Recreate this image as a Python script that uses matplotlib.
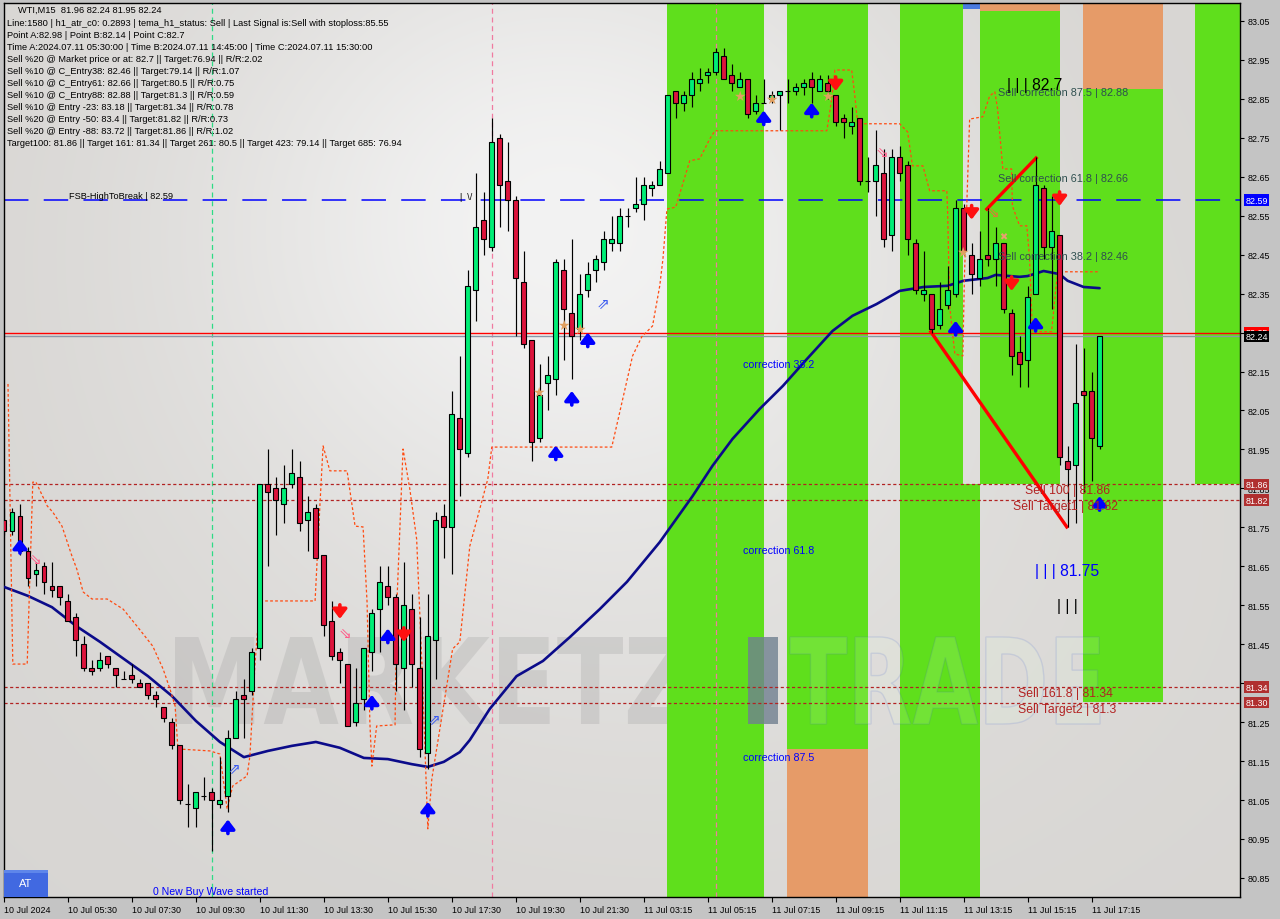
import numpy as np
import matplotlib
matplotlib.use("Agg")
import matplotlib.pyplot as plt
from matplotlib.patches import Rectangle, PathPatch
from matplotlib.textpath import TextPath
from matplotlib.font_manager import FontProperties
from matplotlib.transforms import Affine2D, blended_transform_factory

plt.rcParams['font.family'] = ['Liberation Sans', 'DejaVu Sans']

# ---------------- data ----------------
symbol_line = "WTI,M15  81.96 82.24 81.95 82.24"
info_lines = [
    "Line:1580 | h1_atr_c0: 0.2893 | tema_h1_status: Sell | Last Signal is:Sell with stoploss:85.55",
    "Point A:82.98 | Point B:82.14 | Point C:82.7",
    "Time A:2024.07.11 05:30:00 | Time B:2024.07.11 14:45:00 | Time C:2024.07.11 15:30:00",
    "Sell %20 @ Market price or at: 82.7 || Target:76.94 || R/R:2.02",
    "Sell %10 @ C_Entry38: 82.46 || Target:79.14 || R/R:1.07",
    "Sell %10 @ C_Entry61: 82.66 || Target:80.5 || R/R:0.75",
    "Sell %10 @ C_Entry88: 82.88 || Target:81.3 || R/R:0.59",
    "Sell %10 @ Entry -23: 83.18 || Target:81.34 || R/R:0.78",
    "Sell %20 @ Entry -50: 83.4 || Target:81.82 || R/R:0.73",
    "Sell %20 @ Entry -88: 83.72 || Target:81.86 || R/R:1.02",
    "Target100: 81.86 || Target 161: 81.34 || Target 261: 80.5 || Target 423: 79.14 || Target 685: 76.94",
]

opens = [81.77, 81.74, 81.78, 81.69, 81.63, 81.65, 81.60, 81.60, 81.56, 81.52,
         81.45, 81.39, 81.39, 81.42, 81.39, 81.36, 81.37, 81.35, 81.35, 81.32,
         81.29, 81.25, 81.19, 81.04, 81.03, 81.06, 81.07, 81.04, 81.06, 81.21,
         81.32, 81.33, 81.44, 81.86, 81.85, 81.81, 81.86, 81.88, 81.77, 81.80,
         81.68, 81.51, 81.43, 81.40, 81.25, 81.31, 81.43, 81.54, 81.60, 81.57,
         81.39, 81.54, 81.39, 81.17, 81.46, 81.78, 81.75, 82.03, 81.94, 82.36,
         82.54, 82.47, 82.75, 82.64, 82.59, 82.38, 82.23, 81.98, 82.12, 82.13,
         82.41, 82.30, 82.26, 82.36, 82.41, 82.43, 82.48, 82.48, 82.55, 82.57,
         82.58, 82.62, 82.63, 82.66, 82.87, 82.84, 82.86, 82.89, 82.91, 82.92,
         82.96, 82.91, 82.88, 82.90, 82.82, 82.84, 82.85, 82.86, 82.87, 82.87,
         82.88, 82.90, 82.87, 82.89, 82.86, 82.80, 82.78, 82.80, 82.64, 82.64,
         82.66, 82.50, 82.70, 82.68, 82.48, 82.35, 82.35, 82.27, 82.32, 82.35,
         82.57, 82.45, 82.39, 82.45, 82.44, 82.48, 82.30, 82.20, 82.18, 82.35,
         82.62, 82.47, 82.50, 81.92, 81.91, 82.10, 82.10, 81.96]
highs = [81.80, 81.80, 81.81, 81.70, 81.66, 81.66, 81.66, 81.60, 81.58, 81.53,
         81.47, 81.41, 81.43, 81.42, 81.39, 81.38, 81.40, 81.36, 81.35, 81.33,
         81.29, 81.26, 81.19, 81.09, 81.07, 81.11, 81.08, 81.16, 81.23, 81.33,
         81.36, 81.44, 81.86, 81.95, 81.88, 81.91, 81.95, 81.92, 81.83, 81.81,
         81.68, 81.56, 81.44, 81.40, 81.39, 81.44, 81.54, 81.65, 81.65, 81.58,
         81.66, 81.58, 81.52, 81.58, 81.79, 81.81, 82.10, 82.19, 82.41, 82.66,
         82.61, 82.80, 82.76, 82.74, 82.60, 82.46, 82.23, 82.17, 82.19, 82.44,
         82.44, 82.49, 82.40, 82.43, 82.45, 82.51, 82.55, 82.57, 82.57, 82.65,
         82.65, 82.64, 82.69, 82.86, 82.87, 82.87, 82.92, 82.93, 82.93, 82.98,
         82.98, 82.94, 82.92, 82.90, 82.86, 82.90, 82.87, 82.87, 82.90, 82.89,
         82.90, 82.92, 82.91, 82.91, 82.86, 82.81, 82.83, 82.80, 82.70, 82.77,
         82.72, 82.72, 82.73, 82.69, 82.49, 82.46, 82.35, 82.38, 82.42, 82.59,
         82.58, 82.48, 82.51, 82.57, 82.52, 82.48, 82.31, 82.24, 82.37, 82.70,
         82.63, 82.60, 82.50, 81.96, 82.22, 82.21, 82.15, 82.24]
lows = [81.73, 81.73, 81.68, 81.60, 81.60, 81.58, 81.57, 81.55, 81.51, 81.42,
        81.38, 81.37, 81.38, 81.39, 81.34, 81.36, 81.35, 81.34, 81.31, 81.29,
        81.25, 81.18, 81.04, 80.98, 80.98, 81.05, 80.92, 81.03, 81.02, 81.21,
        81.21, 81.32, 81.41, 81.65, 81.73, 81.76, 81.85, 81.74, 81.69, 81.67,
        81.47, 81.41, 81.35, 81.24, 81.24, 81.28, 81.38, 81.43, 81.55, 81.33,
        81.28, 81.34, 81.16, 81.13, 81.36, 81.67, 81.63, 81.83, 81.93, 82.28,
        82.45, 82.46, 82.52, 82.51, 82.24, 82.21, 81.92, 81.97, 82.05, 82.09,
        82.18, 82.13, 82.23, 82.34, 82.38, 82.41, 82.46, 82.46, 82.52, 82.56,
        82.54, 82.60, 82.63, 82.66, 82.80, 82.82, 82.83, 82.87, 82.89, 82.91,
        82.90, 82.87, 82.88, 82.80, 82.81, 82.84, 82.84, 82.77, 82.84, 82.86,
        82.86, 82.84, 82.87, 82.85, 82.78, 82.75, 82.76, 82.63, 82.61, 82.55,
        82.47, 82.46, 82.64, 82.45, 82.35, 82.33, 82.25, 82.26, 82.31, 82.34,
        82.45, 82.35, 82.37, 82.42, 82.37, 82.30, 82.14, 82.11, 82.11, 82.35,
        82.44, 82.31, 81.91, 81.75, 81.76, 81.84, 81.87, 81.95]
closes = [81.74, 81.79, 81.69, 81.62, 81.64, 81.61, 81.59, 81.57, 81.51, 81.46,
          81.39, 81.38, 81.41, 81.40, 81.37, 81.36, 81.36, 81.34, 81.32, 81.31,
          81.26, 81.19, 81.05, 81.04, 81.07, 81.06, 81.05, 81.05, 81.21, 81.31,
          81.31, 81.43, 81.86, 81.84, 81.82, 81.85, 81.89, 81.76, 81.79, 81.67,
          81.50, 81.42, 81.41, 81.24, 81.30, 81.44, 81.53, 81.61, 81.57, 81.40,
          81.55, 81.40, 81.18, 81.47, 81.77, 81.75, 82.04, 81.95, 82.37, 82.52,
          82.49, 82.74, 82.63, 82.59, 82.39, 82.22, 81.97, 82.09, 82.14, 82.43,
          82.31, 82.24, 82.35, 82.40, 82.44, 82.49, 82.49, 82.55, 82.55, 82.58,
          82.63, 82.63, 82.67, 82.86, 82.84, 82.86, 82.90, 82.90, 82.92, 82.97,
          82.90, 82.89, 82.90, 82.81, 82.84, 82.84, 82.86, 82.87, 82.87, 82.88,
          82.89, 82.88, 82.90, 82.87, 82.79, 82.79, 82.79, 82.64, 82.64, 82.68,
          82.49, 82.70, 82.66, 82.49, 82.36, 82.36, 82.26, 82.31, 82.36, 82.57,
          82.46, 82.40, 82.44, 82.44, 82.48, 82.31, 82.19, 82.17, 82.34, 82.63,
          82.47, 82.51, 81.93, 81.90, 82.07, 82.09, 81.98, 82.24]

ma_bars = [0, 3, 6, 9, 12, 15, 18, 21, 24, 27, 30, 33, 36, 39, 42, 45, 48, 51, 53, 55,
           57, 58.25, 60.75, 64.1, 67.4, 70.75, 74.5, 77.9, 82, 86.1, 88.6, 91.1, 94.5,
           97.4, 100.4, 103.6, 106.1, 109.1, 112, 115, 118, 120, 123, 124, 127, 128,
           130, 132, 133, 135, 137]
ma_vals = [81.597, 81.574, 81.545, 81.497, 81.456, 81.412, 81.368, 81.317, 81.253,
           81.199, 81.160, 81.176, 81.189, 81.199, 81.184, 81.158, 81.155, 81.142,
           81.135, 81.148, 81.173, 81.204, 81.284, 81.368, 81.407, 81.468, 81.540,
           81.610, 81.712, 81.830, 81.908, 81.977, 82.054, 82.113, 82.182, 82.254,
           82.293, 82.323, 82.357, 82.367, 82.370, 82.383, 82.390, 82.398, 82.393,
           82.395, 82.408, 82.400, 82.383, 82.367, 82.364]

env_bars = [0.5, 1.1, 2.9, 3.6, 4.0, 5.4, 6.1, 7.25, 8.5, 9.1, 9.9, 11.0, 12.9, 14.9,
            16.6, 18.6, 19.9, 20.75, 21.4, 21.75, 25.75, 27.0, 27.9, 28.6, 30.4,
            30.75, 31.4, 32.0, 38.9, 39.5, 39.9, 40.75, 42.9, 43.9, 44.9, 45.4,
            45.75, 46.0, 46.6, 48.9, 49.1, 49.9, 50.75, 51.6, 52.25, 53.0, 53.5,
            54.5, 55.1, 56.1, 57.0, 58.25, 60.5, 61.0, 76.0, 77.0, 78.6, 79.75,
            81.1, 82.0, 82.4, 82.9, 84.0, 85.75, 87.0, 88.25, 88.9, 102.9, 103.5,
            103.9, 106.0, 106.4, 106.75, 112.0, 113.0, 113.6, 114.9, 115.75, 117.9,
            118.0, 118.25, 118.9, 119.9, 120.1, 120.75, 122.4, 123.25, 123.9,
            124.25, 124.9, 126.0, 126.1, 127.0, 127.9, 128.25, 128.6, 131.0, 131.4,
            131.75, 137.0]
env_vals = [82.118, 81.399, 81.399, 81.866, 81.866, 81.805, 81.789, 81.753, 81.676,
            81.643, 81.584, 81.566, 81.566, 81.540, 81.497, 81.445, 81.386, 81.335,
            81.291, 81.181, 81.176, 81.168, 81.027, 81.086, 81.112, 81.163, 81.404,
            81.561, 81.561, 81.805, 81.959, 81.895, 81.895, 81.753, 81.751, 81.558,
            81.250, 81.137, 81.240, 81.243, 81.540, 81.951, 81.848, 81.720, 81.404,
            80.976, 81.104, 81.232, 81.309, 81.438, 81.456, 81.702, 81.874, 81.956,
            81.956, 82.046, 82.190, 82.239, 82.267, 82.370, 82.439, 82.567, 82.572,
            82.691, 82.696, 82.747, 82.768, 82.768, 82.850, 82.924, 82.924, 82.857,
            82.786, 82.786, 82.765, 82.678, 82.678, 82.614, 82.614, 82.560, 82.318,
            82.195, 82.190, 82.395, 82.798, 82.804, 82.857, 82.868, 82.824, 82.670,
            82.670, 82.575, 82.524, 82.524, 82.439, 82.252, 82.252, 82.336, 82.406,
            82.406]

x_tick_bars = [0, 8, 16, 24, 32, 40, 48, 56, 64, 72, 80, 88, 96, 104, 112, 120, 128, 136]
x_tick_labels = ["10 Jul 2024", "10 Jul 05:30", "10 Jul 07:30", "10 Jul 09:30",
                 "10 Jul 11:30", "10 Jul 13:30", "10 Jul 15:30", "10 Jul 17:30",
                 "10 Jul 19:30", "10 Jul 21:30", "11 Jul 03:15", "11 Jul 05:15",
                 "11 Jul 07:15", "11 Jul 09:15", "11 Jul 11:15", "11 Jul 13:15",
                 "11 Jul 15:15", "11 Jul 17:15"]
y_tick_vals = [83.05, 82.95, 82.85, 82.75, 82.65, 82.55, 82.45, 82.35, 82.25, 82.15,
               82.05, 81.95, 81.85, 81.75, 81.65, 81.55, 81.45, 81.35, 81.25, 81.15,
               81.05, 80.95, 80.85]
# labels hidden behind the price boxes (82.25, 81.35) are left blank, as in the reference
y_tick_labels = ["83.05", "82.95", "82.85", "82.75", "82.65", "82.55", "82.45", "82.35",
                 "", "82.15", "82.05", "81.95", "81.85", "81.75", "81.65", "81.55",
                 "81.45", "", "81.25", "81.15", "81.05", "80.95", "80.85"]

# coloured zones: (start bar, end bar, low price, high price, colour)
zone_x0 = [82.9, 97.9, 97.9, 112.0, 119.9, 119.9, 122.0, 122.0, 134.9, 134.9, 148.9]
zone_x1 = [95.0, 108.0, 108.0, 119.9, 122.0, 122.0, 132.0, 132.0, 144.9, 144.9, 156.0]
zone_lo = [80.70, 81.181, 80.70, 80.70, 80.70, 83.080, 81.861, 83.076, 81.302, 82.875, 81.861]
zone_hi = [83.20, 83.20, 81.181, 83.20, 81.861, 83.20, 83.076, 83.20, 82.875, 83.20, 83.20]
zone_kind = ["g", "g", "o", "g", "g", "b", "g", "o", "g", "o", "g"]

fsb_level = 82.59
red_level = 82.25
last_price = 82.24
target_levels = [81.86, 81.82, 81.34, 81.30]
right_labels = [("82.59", 82.59, "#0000FF"), ("82.25", 82.25, "#FF0000"),
                ("82.24", 82.24, "#000000"), ("81.86", 81.86, "#B03030"),
                ("81.82", 81.82, "#B03030"), ("81.34", 81.34, "#B03030"),
                ("81.30", 81.30, "#B03030")]

vline_bars = [26, 61, 89]
vline_colors = ["#2EDB86", "#F07AA0", "#F07AA0"]

abc_line1_bars = [115.9, 132.9]
abc_line1_vals = [82.252, 81.751]
abc_line2_bars = [122.9, 129.06]
abc_line2_vals = [82.567, 82.698]

buy_arrow_bars = [2, 28, 46, 48, 53, 69, 71, 73, 95, 101, 119, 129, 137]
buy_arrow_tips = [81.72, 81.00, 81.32, 81.49, 81.045, 81.96, 82.10, 82.25, 82.82, 82.84, 82.28, 82.29, 81.83]
sell_arrow_bars = [42, 50, 104, 121, 126, 132]
sell_arrow_tips = [81.515, 81.456, 82.87, 82.54, 82.357, 82.575]
hollow_dn_bars = [3.9, 42.6, 109.8, 123.7]
hollow_dn_vals = [81.669, 81.481, 82.714, 82.56]
hollow_dn_cols = ["#FF5A88", "#FF5A88", "#FF5A88", "#E8703A"]
hollow_up_bars = [28.7, 53.8, 74.9]
hollow_up_vals = [81.130, 81.258, 82.326]
star_bars = [66.8, 69.9, 71.9, 91.9, 95.9, 102.9, 119.9]
star_vals = [82.097, 82.27, 82.26, 82.857, 82.85, 82.857, 82.457]

# (text, bar, price, colour, size, vertical anchor)
chart_texts = [
    ("Sell correction 87.5 | 82.88", 124.3, 82.88, "#2F4F4F", 7.8, "top"),
    ("Sell correction 61.8 | 82.66", 124.3, 82.66, "#2F4F4F", 7.8, "top"),
    ("Sell correction 38.2 | 82.46", 124.3, 82.46, "#2F4F4F", 7.8, "top"),
    ("| | | 82.7", 125.4, 82.888, "#000000", 11.3, "center"),
    ("Sell 100 | 81.86", 127.7, 81.86, "#B22222", 8.8, "top"),
    ("Sell Target1 | 81.82", 126.2, 81.82, "#B22222", 8.8, "top"),
    ("Sell 161.8 | 81.34", 126.8, 81.34, "#B22222", 8.8, "top"),
    ("Sell Target2 | 81.3", 126.8, 81.30, "#B22222", 8.8, "top"),
    ("| | | 81.75", 128.9, 81.638, "#0000FF", 11.3, "center"),
    ("| | |", 131.7, 81.55, "#000000", 11.3, "center"),
    ("correction 38.2", 92.4, 82.17, "#0000FF", 7.7, "center"),
    ("correction 61.8", 92.4, 81.692, "#0000FF", 7.7, "center"),
    ("correction 87.5", 92.4, 81.16, "#0000FF", 7.7, "center"),
    ("FSB-HighToBreak | 82.59", 8.1, 82.603, "#000000", 6.6, "center"),
    ("0 New Buy Wave started", 18.6, 80.816, "#0000FF", 7.6, "center"),
    ("|  \\/", 57.0, 82.60, "#000000", 6.5, "center"),
]

# ---------------- figure ----------------
W, H = 1280, 920
fig = plt.figure(figsize=(12.8, 9.2), dpi=100, facecolor="#C4C4C4")
ax = fig.add_axes([4 / W, 22 / H, 1236 / W, 894 / H])
ax.set_facecolor("#D8D6D3")
XMIN, XMAX = 0.0625, 154.56
YMIN, YMAX = 80.801, 83.096

# background gradient
gu = np.linspace(0, 1, 320)
gv = np.linspace(0, 1, 230)
U, V = np.meshgrid(gu, gv)
wgt = np.exp(-(((U - 0.45) / 0.30) ** 2 + ((V - 0.78) / 0.35) ** 2))
wgt = np.clip(wgt * 0.9 + 0.25 * np.exp(-(((U - 0.55) / 0.45) ** 2 + ((V - 0.35) / 0.4) ** 2)), 0, 1)
base = np.array([0.843, 0.835, 0.824])
light = np.array([0.955, 0.955, 0.955])
img = base + (light - base) * wgt[..., None]
ax.imshow(img, extent=[0, 1, 0, 1], transform=ax.transAxes, origin="lower",
          aspect="auto", zorder=0, interpolation="bilinear")

# zones
zcol = {"g": "#5FDF1C", "o": "#E69B68", "b": "#4A7BE0"}
for x0, x1, lo, hi, k in zip(zone_x0, zone_x1, zone_lo, zone_hi, zone_kind):
    ax.add_patch(Rectangle((x0, lo), x1 - x0, hi - lo, facecolor=zcol[k],
                           edgecolor="none", zorder=1))


# watermark
def watermark(s, u0, u1, v0, v1, **kw):
    tp = TextPath((0, 0), s, size=100, prop=FontProperties(family="DejaVu Sans", weight="bold"))
    bb = tp.get_extents()
    tr = Affine2D().translate(-bb.x0, -bb.y0).scale((u1 - u0) / bb.width,
                                                    (v1 - v0) / bb.height).translate(u0, v0) + ax.transAxes
    ax.add_patch(PathPatch(tp, transform=tr, **kw))


def pu(x):
    return (x - 4) / 1236


def pv(y):
    return (898 - y) / 894


watermark("MARKETZ", pu(175), pu(690), pv(725), pv(638), facecolor="#9A9A9A",
          edgecolor="none", alpha=0.26, zorder=0.8)
watermark("I", pu(748), pu(778), pv(725), pv(638), facecolor="#708090",
          edgecolor="none", alpha=0.8, zorder=1.2)
watermark("TRADE", pu(790), pu(1100), pv(725), pv(638), facecolor="#E8FFD8",
          edgecolor="#3A5FD0", linewidth=1.0, alpha=0.14, zorder=1.2)

# vertical dashed lines
for b, c in zip(vline_bars, vline_colors):
    ax.axvline(b, color=c, lw=0.9, dashes=(4, 3), zorder=1.5)

# level lines
ax.axhline(fsb_level, color="#0000FF", lw=1.1, dashes=(16, 10), zorder=2)
ax.axhline(red_level, color="#FF0000", lw=1.0, zorder=2)
ax.axhline(last_price, color="#8A96A6", lw=1.0, zorder=2)
for lv in target_levels:
    ax.axhline(lv, color="#B22222", lw=0.9, dashes=(2.5, 2), zorder=2)

# moving average and envelope
ax.plot(ma_bars, ma_vals, color="#0B0B8A", lw=1.9, zorder=3, solid_capstyle="round")
ax.plot(env_bars, env_vals, color="#FF4A10", lw=0.9, dashes=(2.2, 1.8), zorder=3)

# ABC lines
ax.plot(abc_line1_bars, abc_line1_vals, color="#FF0000", lw=2.4, zorder=3.5)
ax.plot(abc_line2_bars, abc_line2_vals, color="#FF0000", lw=2.4, zorder=3.5)

# candles
o = np.array(opens)
h = np.array(highs)
l = np.array(lows)
c = np.array(closes)
xs = np.arange(len(o))
ax.vlines(xs, l, h, color="black", lw=0.85, zorder=4)
cols = np.where(c > o, "#00EE76", np.where(c < o, "#DC143C", "#000000"))
ax.bar(xs, np.abs(c - o), bottom=np.minimum(o, c), width=0.62, color=cols,
       edgecolor="black", linewidth=0.8, zorder=4.2)

# arrows
astyle = "-|>,head_width=0.38,head_length=0.5"
for b, t in zip(buy_arrow_bars, buy_arrow_tips):
    ax.annotate("", xy=(b, t), xytext=(b, t - 0.036),
                arrowprops=dict(arrowstyle=astyle, color="#0000FF", lw=2.6,
                                mutation_scale=11, shrinkA=0, shrinkB=0), zorder=6)
for b, t in zip(sell_arrow_bars, sell_arrow_tips):
    ax.annotate("", xy=(b, t), xytext=(b, t + 0.036),
                arrowprops=dict(arrowstyle=astyle, color="#FF1010", lw=2.6,
                                mutation_scale=11, shrinkA=0, shrinkB=0), zorder=6)
for b, v, cc in zip(hollow_dn_bars, hollow_dn_vals, hollow_dn_cols):
    ax.text(b, v, "\u21d8", color=cc, fontsize=11, ha="center", va="center",
            family="DejaVu Sans", zorder=6)
for b, v in zip(hollow_up_bars, hollow_up_vals):
    ax.text(b, v, "\u21d7", color="#3A5AF0", fontsize=11, ha="center", va="center",
            family="DejaVu Sans", zorder=6)
for b, v in zip(star_bars, star_vals):
    ax.text(b, v, "\u2605", color="#E0A060", fontsize=10, ha="center", va="center",
            family="DejaVu Sans", zorder=6)
ax.text(124.9, 82.498, "\u2716", color="#E8A070", fontsize=7, ha="center", va="center",
        family="DejaVu Sans", zorder=6)

# chart texts
for s, b, v, cc, fs, va in chart_texts:
    ax.text(b, v, s, color=cc, fontsize=fs, ha="left", va=va, zorder=7)

# info block
ax.text(pu(18), pv(10.7), symbol_line, transform=ax.transAxes, fontsize=6.7,
        ha="left", va="center", color="black", zorder=8)
for i, s in enumerate(info_lines):
    ax.text(pu(7), pv(24 + 11.95 * i), s, transform=ax.transAxes, fontsize=6.7,
            ha="left", va="center", color="black", zorder=8)

# AT button
ax.add_patch(Rectangle((0, 0), pu(48), pv(871), transform=ax.transAxes,
                       facecolor="#4169E1", edgecolor="none", zorder=8))
ax.add_patch(Rectangle((0, pv(874)), pu(48), pv(871) - pv(874), transform=ax.transAxes,
                       facecolor="#5E86EA", edgecolor="none", zorder=8.1))
ax.text(pu(26), pv(884), "AT", transform=ax.transAxes, color="white", fontsize=8,
        ha="center", va="center", zorder=9)

# right price labels
btr = blended_transform_factory(ax.transAxes, ax.transData)
for s, v, cc in right_labels:
    ax.text(1.0045, v, s, transform=btr, fontsize=6.4, color="white", ha="left",
            va="center", clip_on=False, zorder=10,
            bbox=dict(boxstyle="square,pad=0.15", facecolor=cc, edgecolor="none"))

# axes
ax.set_xlim(XMIN, XMAX)
ax.set_ylim(YMIN, YMAX)
ax.yaxis.tick_right()
ax.set_yticks(y_tick_vals)
ax.set_yticklabels(y_tick_labels)
ax.set_xticks(x_tick_bars)
ax.set_xticklabels(x_tick_labels, ha="left")
ax.tick_params(axis="y", direction="out", length=3, width=0.8, labelsize=6.4, pad=2.5,
               colors="black")
ax.tick_params(axis="x", direction="out", length=3.5, width=0.8, labelsize=6.4, pad=2,
               colors="black")
for sp in ax.spines.values():
    sp.set_color("black")
    sp.set_linewidth(1.0)

fig.savefig("out.png", dpi=100, facecolor=fig.get_facecolor())
